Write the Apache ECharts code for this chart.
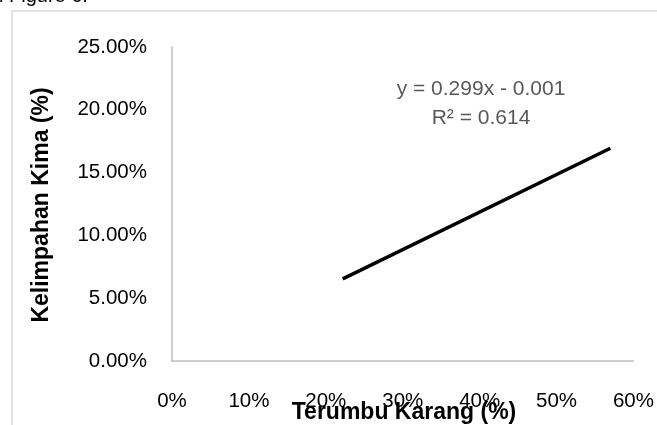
<!DOCTYPE html>
<html>
<head>
<meta charset="utf-8">
<script src="https://cdn.jsdelivr.net/npm/echarts@6/dist/echarts.min.js"></script>
<style>html,body{margin:0;padding:0;background:#fff;}#c{width:657px;height:425px;}</style>
</head>
<body>
<div id="c"></div>
<script>
// Trendline endpoints (percent)
const trendX = [22.2, 57.0];
const trendY = [6.54, 16.94];
const xTicks = [0, 10, 20, 30, 40, 50, 60];
const yTicks = [0, 5, 10, 15, 20, 25];
const xTitle = 'Terumbu Karang (%)';
const yTitle = 'Kelimpahan Kima (%)';
const eqLine1 = 'y = 0.299x - 0.001';
const eqLine2 = 'R² = 0.614';
const captionText = 'l Figure 6.';

const FONT = 'Liberation Sans';
const chart = echarts.init(document.getElementById('c'), null, {renderer: 'canvas'});
chart.setOption({
  animation: false,
  backgroundColor: '#fff',
  grid: {left: 172, right: 22, top: 47, bottom: 64, containLabel: false},
  xAxis: {
    type: 'value', min: xTicks[0], max: xTicks[xTicks.length - 1], interval: 10,
    axisLine: {show: true, lineStyle: {color: '#bfbfbf', width: 1.5}},
    axisTick: {show: false},
    splitLine: {show: false},
    axisLabel: {margin: 30, color: '#000', fontFamily: FONT, fontSize: 20.5, formatter: v => v + '%'}
  },
  yAxis: {
    type: 'value', min: yTicks[0], max: yTicks[yTicks.length - 1], interval: 5,
    axisLine: {show: true, lineStyle: {color: '#bfbfbf', width: 1.5}},
    axisTick: {show: false},
    splitLine: {show: false},
    axisLabel: {margin: 25, color: '#000', fontFamily: FONT, fontSize: 20.5, formatter: v => v.toFixed(2) + '%'}
  },
  series: [{
    type: 'line',
    data: trendX.map((x, i) => [x, trendY[i]]),
    symbol: 'none',
    lineStyle: {color: '#000', width: 3.5},
    z: 5
  }],
  graphic: [
    {type: 'rect', shape: {x: 12, y: 11, width: 700, height: 500}, style: {fill: 'none', stroke: '#d9d9d9', lineWidth: 1.5}, z: 0},
    {type: 'text', left: -1, top: -14, style: {text: captionText, font: '20px ' + FONT, fill: '#000'}},
    {type: 'text', x: 481, y: 89, style: {text: eqLine1, font: '21px ' + FONT, fill: '#595959', textAlign: 'center', textVerticalAlign: 'middle'}},
    {type: 'text', x: 481, y: 118, style: {text: eqLine2, font: '21px ' + FONT, fill: '#595959', textAlign: 'center', textVerticalAlign: 'middle'}},
    {type: 'text', x: 404, y: 413, style: {text: xTitle, font: 'bold 23px ' + FONT, fill: '#000', textAlign: 'center', textVerticalAlign: 'middle'}},
    {type: 'text', x: 42, y: 205, rotation: Math.PI / 2, style: {text: yTitle, font: 'bold 23px ' + FONT, fill: '#000', textAlign: 'center', textVerticalAlign: 'middle'}}
  ]
});
</script>
</body>
</html>
